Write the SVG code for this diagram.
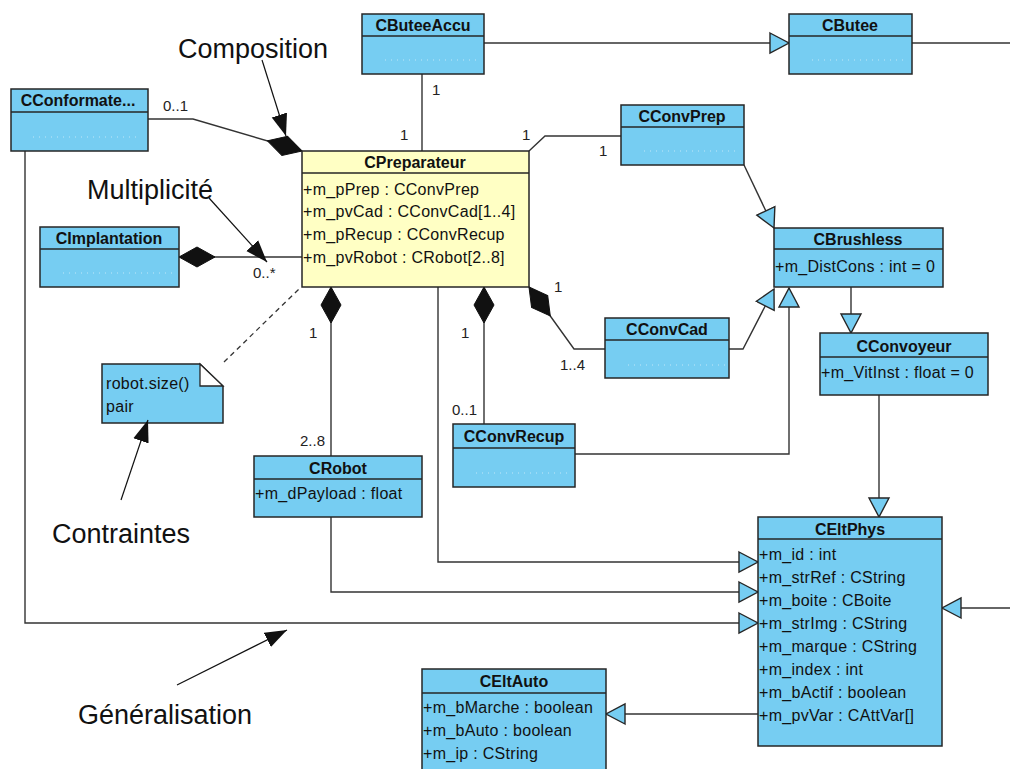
<svg xmlns="http://www.w3.org/2000/svg" width="1010" height="769" viewBox="0 0 1010 769">
  <style>
    .cls { fill: #76CDF2; stroke: #262626; stroke-width: 1.5; }
    .main { fill: #FFFFC4; stroke: #262626; stroke-width: 1.5; }
    .sep { stroke: #262626; stroke-width: 1.5; fill: none; }
    .dots { stroke: #FFFFFF; stroke-width: 1; stroke-dasharray: 1 5; opacity: 0.55; fill: none; }
    .name { font-family: "Liberation Sans", Arial, sans-serif; font-weight: bold; font-size: 16px; fill: #111; text-anchor: middle; }
    .attr { font-family: "Liberation Sans", Arial, sans-serif; font-size: 16px; fill: #111; letter-spacing: 0.3px; }
    .mult { font-family: "Liberation Sans", Arial, sans-serif; font-size: 15px; fill: #222; }
    .call { font-family: "Liberation Sans", Arial, sans-serif; font-size: 27px; fill: #111; }
    .link { stroke: #333; stroke-width: 1.4; fill: none; }
    .gen { marker-end: url(#gen); }
    .comp { marker-start: url(#comp); }
    .callline { stroke: #111; stroke-width: 1.2; fill: none; marker-end: url(#tip); }
  </style>
  <defs>
    <!-- hollow generalisation head, tinted like the class boxes -->
    <marker id="gen" markerUnits="userSpaceOnUse" markerWidth="22" markerHeight="24" refX="19" refY="10" orient="auto" viewBox="-1 -1 22 22">
      <path d="M0,0 L19,10 L0,20 Z" fill="#76CDF2" stroke="#262626" stroke-width="1.4"/>
    </marker>
    <!-- filled composition diamond on the owning side -->
    <marker id="comp" markerUnits="userSpaceOnUse" markerWidth="40" markerHeight="24" refX="0" refY="10" orient="auto" viewBox="-1 -1 40 22">
      <path d="M0,10 L18,0 L36,10 L18,20 Z" fill="#111" stroke="#111" stroke-width="1"/>
    </marker>
    <!-- solid head for the annotation pointers -->
    <marker id="tip" markerUnits="userSpaceOnUse" markerWidth="24" markerHeight="20" refX="22" refY="8" orient="auto" viewBox="0 0 24 18">
      <path d="M0,0 L22,8 L0,16 Z" fill="#111"/>
    </marker>
  </defs>

  <rect width="1010" height="769" fill="#FFFFFF"/>

  <!-- connectors -->
  <g id="connectors">
    <!-- generalisations -->
    <path class="link gen" d="M484,43 L789,43"/>
    <path class="link" d="M912,43 L1010,43"/>
    <path class="link gen" d="M744,165 L774,228"/>
    <path class="link gen" d="M729,349 L743,349 L774,289"/>
    <path class="link gen" d="M575,454 L789,454 L789,288"/>
    <path class="link gen" d="M851,287 L851,333" stroke-width="3"/>
    <path class="link gen" d="M879,395 L879,517"/>
    <path class="link gen" d="M438,287 L438,562 L758,562"/>
    <path class="link gen" d="M331,517 L331,592 L758,592"/>
    <path class="link gen" d="M25,151 L25,623 L758,623"/>
    <path class="link gen" d="M1010,608 L942,608"/>
    <path class="link gen" d="M758,714 L606,714"/>
    <!-- associations -->
    <path class="link" d="M422,74 L422,151"/>
    <path class="link" d="M529,151 L545,136 L621,136"/>
    <!-- compositions -->
    <path class="link comp" d="M302,151 L193,119 L148,119"/>
    <path class="link comp" d="M179,257 L302,257"/>
    <path class="link comp" d="M331,287 L331,456"/>
    <path class="link comp" d="M484,287 L484,424"/>
    <path class="link comp" d="M529,287 L551,317 L574,349 L605,349"/>
    <!-- constraint anchor -->
    <path d="M224,362 L299,289" stroke="#333" stroke-width="1.3" stroke-dasharray="5 4" fill="none"/>

    <!-- multiplicities -->
    <text class="mult" x="163" y="111">0..1</text>
    <text class="mult" x="432" y="95">1</text>
    <text class="mult" x="400" y="140">1</text>
    <text class="mult" x="522" y="140">1</text>
    <text class="mult" x="599" y="156">1</text>
    <text class="mult" x="309" y="202">1</text>
    <text class="mult" x="253" y="278">0..*</text>
    <text class="mult" x="309" y="338">1</text>
    <text class="mult" x="300" y="446">2..8</text>
    <text class="mult" x="461" y="338">1</text>
    <text class="mult" x="452" y="415">0..1</text>
    <text class="mult" x="554" y="292">1</text>
    <text class="mult" x="560" y="370">1..4</text>
  </g>

  <!-- classes -->
  <g id="CConformateur">
    <rect class="cls" x="11" y="89" width="137" height="62"/>
    <line class="sep" x1="11" y1="112" x2="148" y2="112"/>
    <line class="dots" x1="33" y1="137" x2="140" y2="137"/>
    <text class="name" x="78" y="106">CConformate...</text>
  </g>
  <g id="CButeeAccu">
    <rect class="cls" x="362" y="14" width="122" height="60"/>
    <line class="sep" x1="362" y1="36" x2="484" y2="36"/>
    <line class="dots" x1="385" y1="60" x2="480" y2="60"/>
    <text class="name" x="423" y="31">CButeeAccu</text>
  </g>
  <g id="CButee">
    <rect class="cls" x="789" y="14" width="123" height="60"/>
    <line class="sep" x1="789" y1="36" x2="912" y2="36"/>
    <line class="dots" x1="812" y1="60" x2="908" y2="60"/>
    <text class="name" x="850" y="31">CButee</text>
  </g>
  <g id="CConvPrep">
    <rect class="cls" x="621" y="105" width="123" height="60"/>
    <line class="sep" x1="621" y1="127" x2="744" y2="127"/>
    <line class="dots" x1="644" y1="151" x2="740" y2="151"/>
    <text class="name" x="682" y="122">CConvPrep</text>
  </g>
  <g id="CPreparateur">
    <rect class="main" x="302" y="151" width="227" height="136"/>
    <line class="sep" x1="302" y1="173" x2="529" y2="173"/>
    <text class="name" x="415" y="168">CPreparateur</text>
    <text class="attr" x="303" y="195">+m_pPrep : CConvPrep</text>
    <text class="attr" x="303" y="217">+m_pvCad : CConvCad[1..4]</text>
    <text class="attr" x="303" y="240">+m_pRecup : CConvRecup</text>
    <text class="attr" x="303" y="263">+m_pvRobot : CRobot[2..8]</text>
  </g>
  <g id="CImplantation">
    <rect class="cls" x="40" y="227" width="139" height="60"/>
    <line class="sep" x1="40" y1="249" x2="179" y2="249"/>
    <line class="dots" x1="63" y1="273" x2="175" y2="273"/>
    <text class="name" x="109" y="244">CImplantation</text>
  </g>
  <g id="CBrushless">
    <rect class="cls" x="774" y="228" width="169" height="59"/>
    <line class="sep" x1="774" y1="249" x2="943" y2="249"/>
    <text class="name" x="858" y="245">CBrushless</text>
    <text class="attr" x="775" y="272">+m_DistCons : int = 0</text>
  </g>
  <g id="CConvCad">
    <rect class="cls" x="605" y="318" width="124" height="60"/>
    <line class="sep" x1="605" y1="340" x2="729" y2="340"/>
    <line class="dots" x1="628" y1="365" x2="725" y2="365"/>
    <text class="name" x="667" y="335">CConvCad</text>
  </g>
  <g id="CConvoyeur">
    <rect class="cls" x="820" y="333" width="168" height="62"/>
    <line class="sep" x1="820" y1="357" x2="988" y2="357"/>
    <text class="name" x="904" y="352">CConvoyeur</text>
    <text class="attr" x="821" y="378">+m_VitInst : float = 0</text>
  </g>
  <g id="CRobot">
    <rect class="cls" x="254" y="456" width="168" height="61"/>
    <line class="sep" x1="254" y1="479" x2="422" y2="479"/>
    <text class="name" x="338" y="474">CRobot</text>
    <text class="attr" x="255" y="499">+m_dPayload : float</text>
  </g>
  <g id="CConvRecup">
    <rect class="cls" x="453" y="424" width="122" height="63"/>
    <line class="sep" x1="453" y1="448" x2="575" y2="448"/>
    <line class="dots" x1="476" y1="473" x2="571" y2="473"/>
    <text class="name" x="514" y="442">CConvRecup</text>
  </g>
  <g id="CEltPhys">
    <rect class="cls" x="758" y="517" width="184" height="229"/>
    <line class="sep" x1="758" y1="539" x2="942" y2="539"/>
    <text class="name" x="850" y="535">CEltPhys</text>
    <text class="attr" x="759" y="560">+m_id : int</text>
    <text class="attr" x="759" y="583">+m_strRef : CString</text>
    <text class="attr" x="759" y="606">+m_boite : CBoite</text>
    <text class="attr" x="759" y="629">+m_strImg : CString</text>
    <text class="attr" x="759" y="652">+m_marque : CString</text>
    <text class="attr" x="759" y="675">+m_index : int</text>
    <text class="attr" x="759" y="698">+m_bActif : boolean</text>
    <text class="attr" x="759" y="721">+m_pvVar : CAttVar[]</text>
  </g>
  <g id="CEltAuto">
    <rect class="cls" x="422" y="669" width="184" height="104"/>
    <line class="sep" x1="422" y1="693" x2="606" y2="693"/>
    <text class="name" x="514" y="687">CEltAuto</text>
    <text class="attr" x="423" y="713">+m_bMarche : boolean</text>
    <text class="attr" x="423" y="736">+m_bAuto : boolean</text>
    <text class="attr" x="423" y="759">+m_ip : CString</text>
  </g>

  <!-- constraint note -->
  <g id="note">
    <path class="cls" d="M102,364 L200,364 L223,386 L223,423 L102,423 Z"/>
    <path d="M200,364 L200,386 L223,386 Z" fill="#FFFFFF" stroke="#262626" stroke-width="1.3"/>
    <text class="attr" x="106" y="389">robot.size()</text>
    <text class="attr" x="106" y="412">pair</text>
  </g>

  <!-- annotations -->
  <g id="annotations">
    <text class="call" x="178" y="58">Composition</text>
    <path class="callline" d="M262,60 L286,136"/>
    <text class="call" x="87" y="199">Multiplicité</text>
    <path class="callline" d="M209,198 L267,262"/>
    <text class="call" x="52" y="543">Contraintes</text>
    <path class="callline" d="M121,500 L148,420"/>
    <text class="call" x="78" y="724">Généralisation</text>
    <path class="callline" d="M177,685 L287,630"/>
  </g>
</svg>
